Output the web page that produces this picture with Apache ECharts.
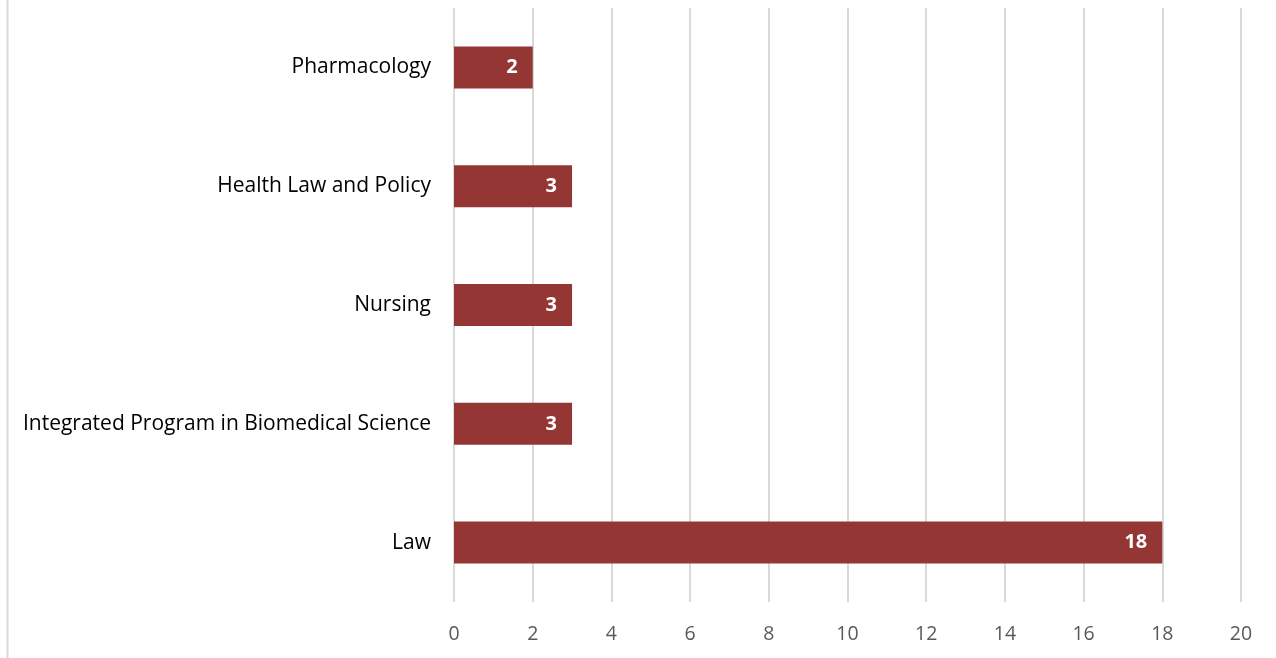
<!DOCTYPE html>
<html>
<head>
<meta charset="utf-8">
<script src="https://cdn.jsdelivr.net/npm/echarts@6/dist/echarts.min.js"></script>
<style>
  html, body { margin: 0; padding: 0; background: #fff; }
  #main { width: 1276px; height: 658px; }
</style>
</head>
<body>
<div id="main"></div>
<script>
  // categories bottom -> top (yAxis category order)
  var programs = ['Law', 'Integrated Program in Biomedical Science', 'Nursing', 'Health Law and Policy', 'Pharmacology'];
  var counts = [18, 3, 3, 3, 2];
  var xTicks = [0, 20, 2]; // min, max, interval

  var chart = echarts.init(document.getElementById('main'));
  var option = {
    animation: false,
    textStyle: { fontFamily: 'Open Sans' },
    graphic: [
      {
        type: 'line',
        shape: { x1: 7.5, y1: 0, x2: 7.5, y2: 658 },
        style: { stroke: '#d9d9d9', lineWidth: 2 }
      }
    ],
    grid: { left: 454, right: 35, top: 8, bottom: 56 },
    xAxis: {
      type: 'value',
      min: xTicks[0],
      max: xTicks[1],
      interval: xTicks[2],
      axisLine: { show: false },
      axisTick: { show: false },
      splitLine: { lineStyle: { color: '#d9d9d9', width: 2 } },
      axisLabel: { color: '#595959', fontSize: 19.5, margin: 22, fontFamily: 'Open Sans' }
    },
    yAxis: {
      type: 'category',
      data: programs,
      axisLine: { show: false },
      axisTick: { show: false },
      axisLabel: { color: '#000', fontSize: 21, margin: 23, fontFamily: 'Open Sans' }
    },
    series: [
      {
        type: 'bar',
        data: counts,
        barWidth: 42,
        itemStyle: { color: '#943634' },
        label: {
          show: true,
          position: 'insideRight',
          distance: 15,
          color: '#fff',
          fontWeight: 'bold',
          fontSize: 20,
          fontFamily: 'Open Sans'
        }
      }
    ]
  };
  chart.setOption(option);
</script>
</body>
</html>
